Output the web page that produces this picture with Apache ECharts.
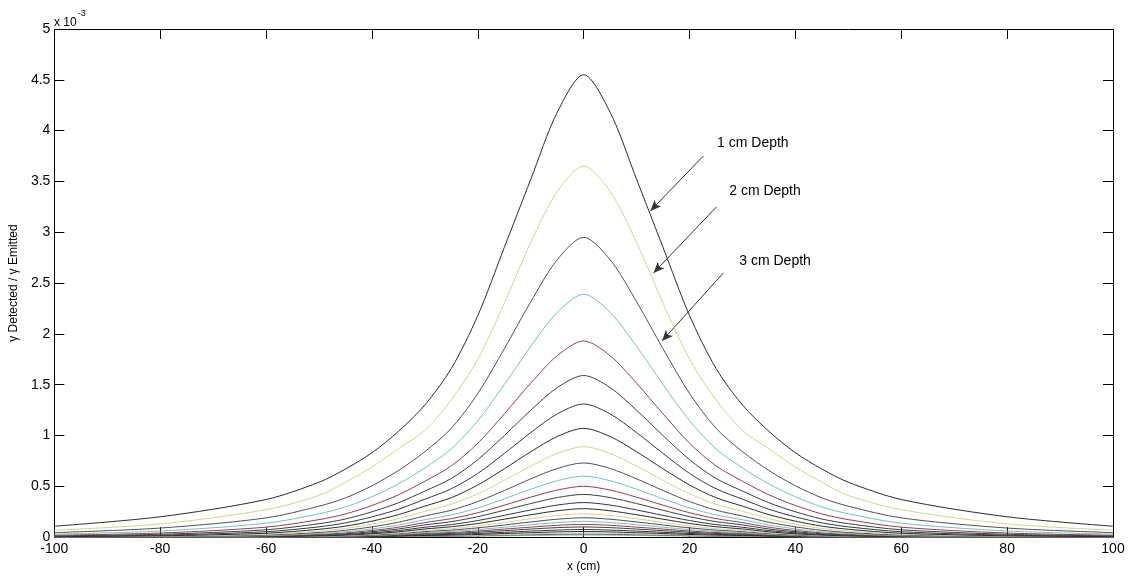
<!DOCTYPE html>
<html>
<head>
<meta charset="utf-8">
<script src="https://cdn.jsdelivr.net/npm/echarts@6.0.0/dist/echarts.min.js"></script>
<style>
  html, body { margin: 0; padding: 0; background: #fff; }
  #main { width: 1130px; height: 578px; }
</style>
</head>
<body>
<div id="main"></div>
<script>
// x positions (cm) and response curves, in units of 1e-3
const xs = [-100, -80, -60, -50, -45, -40, -35, -30, -25, -20, -15, -10, -5, 0, 5, 10, 15, 20, 25, 30, 35, 40, 45, 50, 60, 80, 100]

const d01 = [0.107, 0.20, 0.37, 0.54, 0.67, 0.83, 1.04, 1.30, 1.66, 2.18, 2.85, 3.52, 4.18, 4.55, 4.18, 3.52, 2.85, 2.18, 1.66, 1.30, 1.04, 0.83, 0.67, 0.54, 0.37, 0.20, 0.107]
const d02 = [0.068, 0.13, 0.27, 0.41, 0.54, 0.69, 0.87, 1.05, 1.35, 1.75, 2.30, 2.90, 3.40, 3.65, 3.40, 2.90, 2.30, 1.75, 1.35, 1.05, 0.87, 0.69, 0.54, 0.41, 0.27, 0.13, 0.068]
const d03 = [0.044, 0.089, 0.189, 0.304, 0.386, 0.505, 0.655, 0.841, 1.071, 1.413, 1.853, 2.316, 2.729, 2.95, 2.729, 2.316, 1.853, 1.413, 1.071, 0.841, 0.655, 0.505, 0.386, 0.304, 0.189, 0.089, 0.044]
const d04 = [0.029, 0.060, 0.137, 0.229, 0.297, 0.397, 0.523, 0.681, 0.868, 1.145, 1.501, 1.876, 2.211, 2.39, 2.211, 1.876, 1.501, 1.145, 0.868, 0.681, 0.523, 0.397, 0.297, 0.229, 0.137, 0.060, 0.029]
const d05 = [0.019, 0.040, 0.098, 0.172, 0.228, 0.311, 0.416, 0.550, 0.701, 0.924, 1.212, 1.515, 1.785, 1.93, 1.785, 1.515, 1.212, 0.924, 0.701, 0.550, 0.416, 0.311, 0.228, 0.172, 0.098, 0.040, 0.019]
const d06 = [0.012, 0.028, 0.072, 0.132, 0.178, 0.249, 0.338, 0.453, 0.577, 0.762, 0.999, 1.248, 1.471, 1.59, 1.471, 1.248, 0.999, 0.762, 0.577, 0.453, 0.338, 0.249, 0.178, 0.132, 0.072, 0.028, 0.012]
const d07 = [0.008, 0.019, 0.053, 0.101, 0.140, 0.199, 0.274, 0.373, 0.476, 0.627, 0.823, 1.028, 1.212, 1.31, 1.212, 1.028, 0.823, 0.627, 0.476, 0.373, 0.274, 0.199, 0.140, 0.101, 0.053, 0.019, 0.008]
const d08 = [0.005, 0.013, 0.038, 0.077, 0.108, 0.157, 0.221, 0.305, 0.388, 0.513, 0.672, 0.840, 0.990, 1.07, 0.990, 0.840, 0.672, 0.513, 0.388, 0.305, 0.221, 0.157, 0.108, 0.077, 0.038, 0.013, 0.005]
const d09 = [0.0035, 0.009, 0.028, 0.059, 0.086, 0.127, 0.181, 0.254, 0.323, 0.426, 0.559, 0.699, 0.823, 0.89, 0.823, 0.699, 0.559, 0.426, 0.323, 0.254, 0.181, 0.127, 0.086, 0.059, 0.028, 0.009, 0.0035]
const d10 = [0.0023, 0.006, 0.021, 0.045, 0.067, 0.101, 0.146, 0.208, 0.265, 0.350, 0.458, 0.573, 0.675, 0.73, 0.675, 0.573, 0.458, 0.350, 0.265, 0.208, 0.146, 0.101, 0.067, 0.045, 0.021, 0.006, 0.0023]
const d11 = [0.0015, 0.004, 0.015, 0.035, 0.052, 0.081, 0.118, 0.171, 0.218, 0.287, 0.377, 0.471, 0.555, 0.60, 0.555, 0.471, 0.377, 0.287, 0.218, 0.171, 0.118, 0.081, 0.052, 0.035, 0.015, 0.004, 0.0015]
const d12 = [0.001, 0.003, 0.011, 0.027, 0.041, 0.065, 0.097, 0.143, 0.182, 0.240, 0.314, 0.393, 0.463, 0.50, 0.463, 0.393, 0.314, 0.240, 0.182, 0.143, 0.097, 0.065, 0.041, 0.027, 0.011, 0.003, 0.001]
const d13 = [0.0007, 0.002, 0.008, 0.021, 0.033, 0.053, 0.080, 0.120, 0.152, 0.201, 0.264, 0.330, 0.389, 0.42, 0.389, 0.330, 0.264, 0.201, 0.152, 0.120, 0.080, 0.053, 0.033, 0.021, 0.008, 0.002, 0.0007]
const d14 = [0.0004, 0.0013, 0.006, 0.016, 0.025, 0.042, 0.064, 0.097, 0.123, 0.163, 0.214, 0.267, 0.315, 0.34, 0.315, 0.267, 0.214, 0.163, 0.123, 0.097, 0.064, 0.042, 0.025, 0.016, 0.006, 0.0013, 0.0004]
const d15 = [0.0003, 0.0009, 0.0044, 0.012, 0.020, 0.033, 0.052, 0.080, 0.102, 0.134, 0.176, 0.220, 0.259, 0.28, 0.259, 0.220, 0.176, 0.134, 0.102, 0.080, 0.052, 0.033, 0.020, 0.012, 0.0044, 0.0009, 0.0003]
const d16 = [0.0002, 0.0006, 0.0032, 0.009, 0.015, 0.027, 0.042, 0.066, 0.083, 0.110, 0.144, 0.181, 0.213, 0.23, 0.213, 0.181, 0.144, 0.110, 0.083, 0.066, 0.042, 0.027, 0.015, 0.009, 0.0032, 0.0006, 0.0002]
const d17 = [0.0001, 0.0004, 0.0024, 0.007, 0.012, 0.021, 0.034, 0.054, 0.069, 0.091, 0.119, 0.149, 0.176, 0.19, 0.176, 0.149, 0.119, 0.091, 0.069, 0.054, 0.034, 0.021, 0.012, 0.007, 0.0024, 0.0004, 0.0001]
const d18 = [0.0001, 0.0003, 0.0017, 0.005, 0.0094, 0.017, 0.0275, 0.044, 0.056, 0.074, 0.097, 0.122, 0.143, 0.155, 0.143, 0.122, 0.097, 0.074, 0.056, 0.044, 0.0275, 0.017, 0.0094, 0.005, 0.0017, 0.0003, 0.0001]
const d19 = [0.0001, 0.0002, 0.0012, 0.004, 0.0072, 0.013, 0.022, 0.036, 0.045, 0.060, 0.079, 0.098, 0.116, 0.125, 0.116, 0.098, 0.079, 0.060, 0.045, 0.036, 0.022, 0.013, 0.0072, 0.004, 0.0012, 0.0002, 0.0001]
const d20 = [0, 0.0001, 0.0009, 0.003, 0.0055, 0.010, 0.017, 0.029, 0.036, 0.048, 0.063, 0.079, 0.093, 0.10, 0.093, 0.079, 0.063, 0.048, 0.036, 0.029, 0.017, 0.010, 0.0055, 0.003, 0.0009, 0.0001, 0]
const d21 = [0, 0.0001, 0.0006, 0.002, 0.0039, 0.0074, 0.0127, 0.021, 0.027, 0.036, 0.047, 0.059, 0.069, 0.075, 0.069, 0.059, 0.047, 0.036, 0.027, 0.021, 0.0127, 0.0074, 0.0039, 0.002, 0.0006, 0.0001, 0]
const d22 = [0, 0, 0.0004, 0.0014, 0.0027, 0.0053, 0.0092, 0.016, 0.020, 0.026, 0.035, 0.043, 0.051, 0.055, 0.051, 0.043, 0.035, 0.026, 0.020, 0.016, 0.0092, 0.0053, 0.0027, 0.0014, 0.0004, 0, 0]
const d23 = [0, 0, 0.0002, 0.001, 0.0019, 0.0037, 0.0066, 0.011, 0.0145, 0.019, 0.025, 0.031, 0.037, 0.04, 0.037, 0.031, 0.025, 0.019, 0.0145, 0.011, 0.0066, 0.0037, 0.0019, 0.001, 0.0002, 0, 0]
const d24 = [0, 0, 0.0002, 0.0007, 0.0013, 0.0027, 0.0049, 0.0086, 0.0109, 0.014, 0.019, 0.024, 0.028, 0.03, 0.028, 0.024, 0.019, 0.014, 0.0109, 0.0086, 0.0049, 0.0027, 0.0013, 0.0007, 0.0002, 0, 0]
const d25 = [0, 0, 0.0001, 0.0004, 0.0008, 0.0018, 0.0032, 0.0057, 0.0073, 0.0096, 0.0126, 0.0157, 0.0185, 0.02, 0.0185, 0.0157, 0.0126, 0.0096, 0.0073, 0.0057, 0.0032, 0.0018, 0.0008, 0.0004, 0.0001, 0, 0]

const curves = [d01, d02, d03, d04, d05, d06, d07, d08, d09, d10, d11, d12, d13, d14, d15, d16, d17, d18, d19, d20, d21, d22, d23, d24, d25]

// annotation text and arrows (data coordinates)
const noteText = ['1 cm Depth', '2 cm Depth', '3 cm Depth']
const noteAt = [[25.1, 3.88], [27.4, 3.40], [29.3, 2.72]]
const arrowFrom = [[22.6, 3.75], [25.1, 3.25], [26.4, 2.60]]
const arrowTo = [[12.6, 3.21], [13.2, 2.60], [14.8, 1.93]]

// matlab-ish colour cycle, washed out like the original
const cycle = ['#2b2b2b', '#d6d48a', '#5a4a55', '#6cc4c0', '#9c3a48', '#34443a', '#2e3456']

const font = 'Liberation Sans, Arial, sans-serif'

const myChart = echarts.init(document.getElementById('main'))

const series = curves.map((vals, i) => ({
  type: 'line',
  data: xs.map((x, j) => [x, vals[j]]),
  smooth: 0.3,
  showSymbol: false,
  silent: true,
  z: 30 - i,
  lineStyle: { color: cycle[i % cycle.length], width: 1 }
}))

series.push({
  type: 'line',
  data: [],
  silent: true,
  markLine: {
    silent: true,
    animation: false,
    symbol: ['none', 'arrow'],
    symbolSize: [7, 11],
    lineStyle: { color: '#333', width: 1, type: 'solid' },
    itemStyle: { color: '#222' },
    label: { show: false },
    data: arrowFrom.map((a, i) => [{ coord: a }, { coord: arrowTo[i] }])
  },
  markPoint: {
    silent: true,
    animation: false,
    symbol: 'circle',
    symbolSize: 1,
    itemStyle: { color: 'rgba(0,0,0,0)' },
    label: {
      show: true,
      position: 'right',
      distance: 0,
      color: '#000',
      fontSize: 14,
      fontFamily: font,
      formatter: '{b}'
    },
    data: noteText.map((t, i) => ({ name: t, coord: noteAt[i] }))
  }
})

const tick = { inside: true, length: 10, lineStyle: { color: '#000', width: 1 } }
const line = { onZero: false, lineStyle: { color: '#000', width: 1 } }

const option = {
  animation: false,
  backgroundColor: '#fff',
  title: {
    text: '{a|x 10}{b|-3}',
    left: 49,
    top: 4,
    textStyle: {
      rich: {
        a: { fontSize: 12, fontWeight: 'normal', fontFamily: font, color: '#000', lineHeight: 20, verticalAlign: 'bottom' },
        b: { fontSize: 9, fontWeight: 'normal', fontFamily: font, color: '#000', lineHeight: 20, verticalAlign: 'top', padding: [0, 0, 0, 1] }
      }
    }
  },
  grid: { left: 50, right: 17, top: 29, bottom: 37 },
  xAxis: [
    {
      type: 'value', min: -100, max: 100, interval: 20, position: 'bottom',
      axisLine: line, axisTick: tick, splitLine: { show: false },
      axisLabel: { color: '#000', fontSize: 14, fontFamily: font, margin: 5 },
      name: 'x (cm)', nameLocation: 'middle', nameGap: 23,
      nameTextStyle: { color: '#000', fontSize: 12, fontFamily: font }
    },
    {
      type: 'value', min: -100, max: 100, interval: 20, position: 'top',
      axisLine: line, axisTick: tick, splitLine: { show: false }, axisLabel: { show: false }
    }
  ],
  yAxis: [
    {
      type: 'value', min: 0, max: 5, interval: 0.5, position: 'left',
      axisLine: line, axisTick: tick, splitLine: { show: false },
      axisLabel: { color: '#000', fontSize: 14, fontFamily: font, margin: 4 },
      name: 'γ Detected / γ Emitted', nameLocation: 'middle', nameGap: 33,
      nameTextStyle: { color: '#000', fontSize: 12, fontFamily: font }
    },
    {
      type: 'value', min: 0, max: 5, interval: 0.5, position: 'right',
      axisLine: line, axisTick: tick, splitLine: { show: false }, axisLabel: { show: false }
    }
  ],
  series: series
}

myChart.setOption(option)
</script>
</body>
</html>
